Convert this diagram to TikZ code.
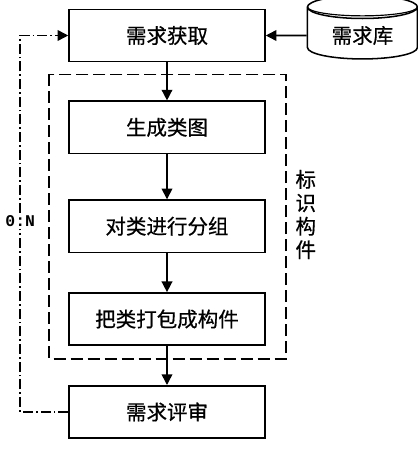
\documentclass[tikz,border=0pt]{standalone}
\usepackage{fontspec}
\setmainfont{Liberation Serif}
\newfontfamily\cjkfont[FakeBold=0.6]{Noto Sans CJK SC}
\newfontfamily\codefont{Liberation Mono}
\usetikzlibrary{shapes.geometric, arrows.meta, positioning, calc}

\begin{document}
\begin{tikzpicture}[
        node distance = 1.17cm,
        > = {Triangle[width=3.2mm,length=3.2mm]},
        line width = 1.3pt,
        block/.style = {
            draw,
            rectangle,
            minimum height = 1.57cm,
            minimum width = 5.88cm,
            align = center,
            font = \cjkfont\fontsize{17.5pt}{20pt}\selectfont
        },
        store/.style = {
            draw,
            cylinder,
            shape border rotate = 90,
            shape aspect = 0.33,
            minimum height = 1.9cm,
            minimum width = 3.3cm,
            font = \cjkfont\fontsize{17.5pt}{20pt}\selectfont
        },
        groupbox/.style = {draw, dash pattern = on 0.36cm off 0.15cm},
        feedback/.style = {draw, dash pattern = on 0.3cm off 0.09cm on 0.05cm off 0.09cm},
        point/.style = {coordinate},
        every node/.style = {font=\cjkfont\fontsize{17.5pt}{20pt}\selectfont}
    ]
        \useasboundingbox (0,0) rectangle (12.54,-13.8);

        \node[block] (get) at (5.01,-1.065) {需求获取};
        \node[block, below=1.14cm of get] (classes) {生成类图};
        \node[block, below=1.35cm of classes] (grouping) {对类进行分组};
        \node[block, below=of grouping] (packing) {把类打包成构件};
        \node[block, below=of packing] (review) {需求评审};
        \node[store, anchor=center] (repo) at ($(get.east)+(2.9,0)$) {需求库};

        % second rim line on the store
        \draw[line width=1pt] ($(repo.top)+(-1.65,-0.36)$) arc[start angle=180, end angle=360, x radius=1.65cm, y radius=0.27cm];

        % dashed group round the three steps
        \coordinate (frameNW) at ($(classes.north west)+(-0.57,0.78)$);
        \coordinate (frameSE) at ($(packing.south east)+(0.6,-0.39)$);
        \draw[groupbox] (frameNW) rectangle (frameSE);
        \node[align=center, inner sep=0pt] (idlabel) at ($(frameSE |- grouping.center)+(0.6,0.35)$) {标\\识\\构\\件};

        \draw[->] (repo.west) -- (get.east);
        \draw[->] (get) -- (classes);
        \draw[->] (classes) -- (grouping);
        \draw[->] (grouping) -- (packing);
        \draw[->] (packing) -- (review);

        \coordinate (loopTop) at ($(get.west)+(-1.44,0)$);
        \draw[feedback, ->] (review.west) -| (loopTop) -- (get.west);
        \node[fill=white, inner sep=2pt, font=\codefont\bfseries\fontsize{14pt}{14pt}\selectfont] (ratio) at ($(loopTop |- grouping.center)+(0,0.15)$) {0:N};

    \end{tikzpicture}
\end{document}
